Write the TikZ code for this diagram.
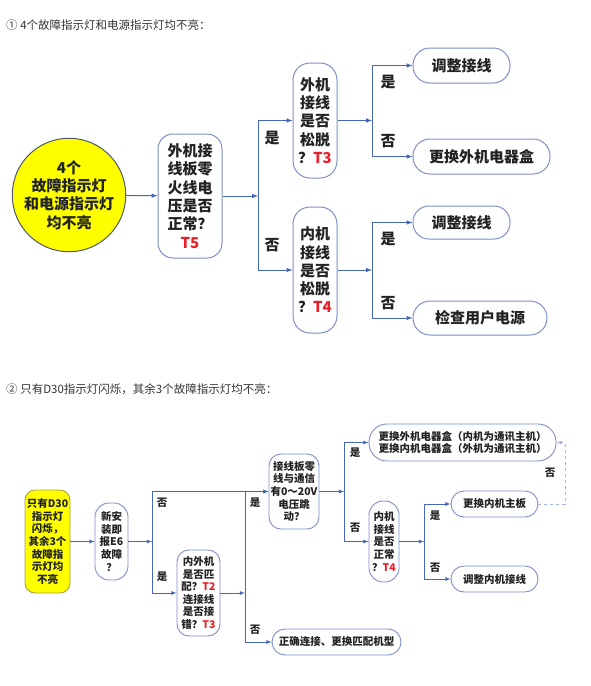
\documentclass[tikz,border=0pt]{standalone}
\usepackage{fontspec}
\setmainfont{Noto Sans CJK SC}
\usetikzlibrary{arrows, positioning}

\definecolor{frameblue}{HTML}{7F8FC8}
\definecolor{lineblue}{HTML}{4566B5}
\definecolor{dashblue}{HTML}{A9B6DC}
\definecolor{tred}{HTML}{E8202A}
\definecolor{txt}{HTML}{222222}
\definecolor{titlegray}{HTML}{333333}
\definecolor{circgray}{HTML}{4F5868}
\definecolor{olivebd}{HTML}{A8A040}
\definecolor{lemon}{HTML}{FFFF00}

\newcommand{\txtA}{\fontsize{15}{18.3}\selectfont\bfseries}
\newcommand{\txtB}{\fontsize{10.5}{12.6}\selectfont\bfseries}
\newcommand{\tnum}[1]{{\color{tred}#1}}

\tikzset{
  qbox/.style={draw=frameblue, line width=1pt, fill=white, text=txt, align=center, inner sep=0pt},
  boxA/.style={qbox, font=\txtA},
  boxB/.style={qbox, font=\txtB, line width=0.9pt},
  link/.style={draw=lineblue, line width=1pt, -latex},
  slink/.style={draw=lineblue, line width=0.8pt, -latex},
  yn/.style={text=txt, inner sep=0pt, font=\txtA},
  ynb/.style={text=txt, inner sep=0pt, font=\txtB},
  title/.style={anchor=west, text=titlegray, inner sep=0pt, font=\fontsize{11.5}{14}\selectfont},
}

\begin{document}
\begin{tikzpicture}[x=1pt, y=-1pt]
\useasboundingbox (0,0) rectangle (590,686);

% first chart
\node[title] (title1) at (6,25) {① 4个故障指示灯和电源指示灯均不亮：};
\node[boxA, circle, draw=circgray, fill=lemon, minimum size=108pt] (lamp) at (69,195) {4个\\故障指示灯\\和电源指示灯\\均不亮};
\node[boxA, minimum width=64pt, minimum height=124pt, rounded corners=15pt] (t5) at (190,196) {外机接\\线板零\\火线电\\压是否\\正常？\\\tnum{T5}};
\node[coordinate] at (258,196) (s1) {};
\node[boxA, minimum width=44pt, minimum height=115pt, rounded corners=17pt] (t3) at (315,120.5) {外机\\接线\\是否\\松脱\\？\tnum{T3}};
\node[boxA, minimum width=44pt, minimum height=126pt, rounded corners=17pt] (t4) at (315,270) {内机\\接线\\是否\\松脱\\？\tnum{T4}};
\node[coordinate] at (372,120.5) (s2) {};
\node[coordinate] at (372,270) (s3) {};
\node[boxA, minimum width=97pt, minimum height=35pt, rounded corners=17pt] (fix1) at (461.5,65.5) {调整接线};
\node[boxA, minimum width=137pt, minimum height=35pt, rounded corners=17pt] (swap1) at (481.5,156.5) {更换外机电器盒};
\node[boxA, minimum width=97pt, minimum height=33pt, rounded corners=16pt] (fix2) at (461.5,222.5) {调整接线};
\node[boxA, minimum width=134pt, minimum height=34pt, rounded corners=17pt] (power) at (480,318) {检查用户电源};

\draw[link] (lamp) -- (t5);
\draw[link] (t5) -- (s1);
\draw[link] (s1) |- (t3);
\draw[link] (s1) |- (t4);
\draw[link] (t3) -- (s2);
\draw[link] (s2) |- (fix1);
\draw[link] (s2) |- (swap1);
\draw[link] (t4) -- (s3);
\draw[link] (s3) |- (fix2);
\draw[link] (s3) |- (power);

\node[yn] (y1) at (272,138) {是};
\node[yn] (n1) at (272,245) {否};
\node[yn] (y2) at (388,82) {是};
\node[yn] (n2) at (388,141) {否};
\node[yn] (y3) at (388,239) {是};
\node[yn] (n3) at (388,303) {否};

% second chart
\node[title] (title2) at (6,389) {② 只有D30指示灯闪烁，其余3个故障指示灯均不亮：};
\node[boxB, fill=lemon, draw=olivebd, minimum width=45pt, minimum height=103pt, rounded corners=10pt] (d30) at (47.5,541.5) {只有D30\\指示灯\\闪烁，\\其余3个\\故障指\\示灯均\\不亮};
\node[boxB, minimum width=33pt, minimum height=77pt, rounded corners=14pt] (e6) at (111.5,541.5) {新安\\装即\\报E6\\故障\\？};
\node[coordinate] at (152,541.5) (s4) {};
\node[boxB, minimum width=43pt, minimum height=86pt, rounded corners=12pt] (match) at (198.5,593) {内外机\\是否匹\\配？\tnum{T2}\\连接线\\是否接\\错？\tnum{T3}};
\node[coordinate] at (245,593) (s5) {};
\node[boxB, minimum width=50pt, minimum height=75pt, rounded corners=12pt] (volt) at (294,491.5) {接线板零\\线与通信\\有0～20V\\电压跳\\动？};
\node[boxB, minimum width=129pt, minimum height=26pt, rounded corners=13pt] (right) at (336.5,642) {正确连接、更换匹配机型};
\node[coordinate] at (344,491.5) (s6) {};
\node[boxB, minimum width=187pt, minimum height=37pt, rounded corners=18pt] (swap2) at (462.5,442.5) {更换外机电器盒（内机为通讯主机）\\更换内机电器盒（外机为通讯主机）};
\node[boxB, minimum width=30pt, minimum height=81pt, rounded corners=14pt] (t4b) at (384,541.5) {内机\\接线\\是否\\正常\\？\tnum{T4}};
\node[coordinate] at (424,541.5) (s7) {};
\node[boxB, minimum width=87pt, minimum height=26pt, rounded corners=13pt] (board) at (494.5,504) {更换内机主板};
\node[boxB, minimum width=87pt, minimum height=26pt, rounded corners=13pt] (adjust) at (494.5,579) {调整内机接线};
\node[coordinate] at (565,504) (d1) {};

\draw[slink] (d30) -- (e6);
\draw[slink] (e6) -- (s4);
\draw[slink] (s4) |- (volt);
\draw[slink] (s4) |- (match);
\draw[slink] (match) -- (s5);
\draw[slink] (s5) |- (volt);
\draw[slink] (s5) |- (right);
\draw[slink] (volt) -- (s6);
\draw[slink] (s6) |- (swap2);
\draw[slink] (s6) |- (t4b);
\draw[slink] (t4b) -- (s7);
\draw[slink] (s7) |- (board);
\draw[slink] (s7) |- (adjust);
\draw[slink, draw=dashblue, dashed] (board) -- (d1) |- (swap2);

\node[ynb] (y4) at (162,503) {否};
\node[ynb] (n4) at (162,577) {是};
\node[ynb] (y5) at (255,503) {是};
\node[ynb] (n5) at (255,630) {否};
\node[ynb] (y6) at (355,453) {是};
\node[ynb] (n6) at (355,528) {否};
\node[ynb] (y7) at (435,516) {是};
\node[ynb] (n7) at (435,568) {否};
\node[ynb] (n8) at (550,473) {否};
\end{tikzpicture}
\end{document}
